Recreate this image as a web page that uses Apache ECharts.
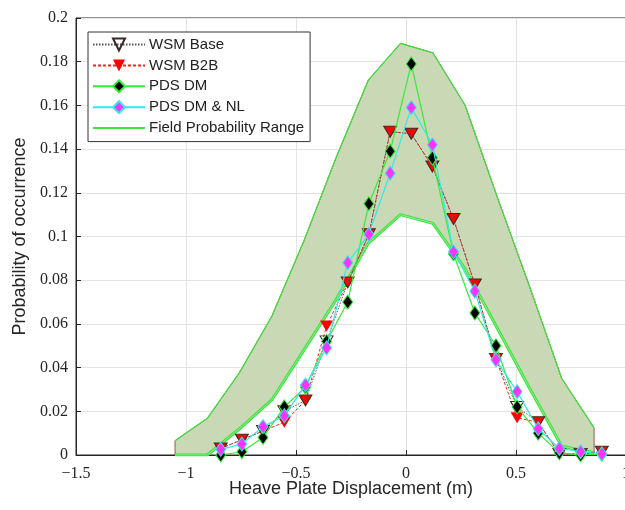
<!DOCTYPE html>
<html>
<head>
<meta charset="utf-8">
<script src="https://cdn.jsdelivr.net/npm/echarts@6/dist/echarts.min.js"></script>
<style>
html, body { margin: 0; padding: 0; background: #fff; }
#main { width: 625px; height: 510px; }
</style>
</head>
<body>
<div id="main"></div>
<script>
// marker positions (m)
var xPos = [-0.842, -0.746, -0.650, -0.553, -0.457, -0.361, -0.265, -0.169, -0.072, 0.024,
            0.120, 0.216, 0.313, 0.409, 0.505, 0.601, 0.697, 0.794, 0.890];
var wsmBase = [0.003, 0.007, 0.011, 0.020, 0.025, 0.052, 0.079, 0.101, 0.148, 0.147,
               0.132, 0.108, 0.078, 0.044, 0.022, 0.015, 0.0005, 0.0005, 0.0015];
var wsmB2B = [0.003, 0.007, 0.011, 0.015, 0.025, 0.059, 0.079, 0.101, 0.148, 0.147,
              0.132, 0.108, 0.078, 0.044, 0.017, 0.015, 0.0005, 0.0005, 0.0015];
var pdsDM = [0.000, 0.0015, 0.008, 0.022, 0.031, 0.052, 0.070, 0.115, 0.139, 0.179,
             0.136, 0.092, 0.065, 0.050, 0.022, 0.010, 0.001, 0.000, 0.0003];
var pdsDMNL = [0.0026, 0.005, 0.013, 0.018, 0.032, 0.049, 0.088, 0.101, 0.129, 0.159,
               0.142, 0.093, 0.075, 0.0435, 0.029, 0.012, 0.003, 0.0015, 0.0005];

// field probability range
var fieldX = [-1.05, -0.903, -0.757, -0.61, -0.464, -0.318, -0.171, -0.025, 0.122, 0.268,
              0.415, 0.561, 0.708, 0.855];
var fieldUpper = [0.0065, 0.0168, 0.0377, 0.0635, 0.098, 0.136, 0.1716, 0.1884, 0.1841, 0.1602,
                  0.118, 0.0773, 0.035, 0.0124];
var fieldLower = [0.0, 0.0, 0.012, 0.0252, 0.048, 0.071, 0.097, 0.110, 0.106, 0.0853,
                  0.058, 0.0307, 0.004, 0.001];

function pairs(xs, ys) {
    var out = [];
    for (var i = 0; i < xs.length; i++) {
        out.push([xs[i], ys[i]]);
    }
    return out;
}

var myChart = echarts.init(document.getElementById('main'));
var sans = 'Liberation Sans';
var serif = 'Liberation Serif';
var green = '#3de23d';

var option = {
    backgroundColor: '#ffffff',
    animation: false,
    grid: {
        left: 76, top: 18, width: 550, bottom: 55,
        containLabel: false,
        outerBoundsMode: 'none',
        show: true, borderColor: '#262626', borderWidth: 1
    },
    legend: {
        orient: 'vertical',
        left: 88, top: 32,
        backgroundColor: '#ffffff',
        borderColor: '#333333',
        borderWidth: 1,
        padding: [5, 6, 6, 4],
        itemWidth: 52,
        itemHeight: 15,
        itemGap: 5.9,
        textStyle: { fontFamily: sans, fontSize: 15, color: '#222', padding: [0, 0, 0, -1] },
        data: [
            'WSM Base', 'WSM B2B', 'PDS DM', 'PDS DM & NL',
            { name: 'Field Probability Range', itemStyle: { opacity: 0 } }
        ]
    },
    xAxis: {
        type: 'value',
        min: -1.5, max: 1, interval: 0.5,
        name: 'Heave Plate Displacement (m)',
        nameLocation: 'middle',
        nameGap: 25,
        nameMoveOverlap: false,
        nameTextStyle: { fontFamily: sans, fontSize: 18, color: '#262626' },
        axisLine: { onZero: false, lineStyle: { color: '#262626' } },
        axisTick: { inside: true, length: 5, lineStyle: { color: '#262626' } },
        axisLabel: {
            fontFamily: serif, fontSize: 16, color: '#262626', margin: 11,
            formatter: function (v) { return String(v).replace('-', '\u2212'); }
        },
        splitLine: { show: true, lineStyle: { color: '#e3e3e3' } }
    },
    yAxis: {
        type: 'value',
        min: 0, max: 0.2, interval: 0.02,
        name: 'Probability of occurrence',
        nameLocation: 'middle',
        nameGap: 41,
        nameTextStyle: { fontFamily: sans, fontSize: 18, color: '#262626' },
        axisLine: { show: true, onZero: false, lineStyle: { color: '#262626' } },
        axisTick: { show: true, inside: true, length: 5, lineStyle: { color: '#262626' } },
        axisLabel: { fontFamily: serif, fontSize: 16, color: '#262626', margin: 8 },
        splitLine: { show: true, lineStyle: { color: '#e3e3e3' } }
    },
    series: [
        {
            name: 'fieldFill',
            type: 'custom',
            z: 1,
            silent: true,
            data: pairs(fieldX, fieldUpper),
            renderItem: function (params, api) {
                if (params.dataIndex !== 0) return;
                var pts = [];
                for (var i = 0; i < fieldX.length; i++) {
                    pts.push(api.coord([fieldX[i], fieldUpper[i]]));
                }
                for (var j = fieldX.length - 1; j >= 0; j--) {
                    pts.push(api.coord([fieldX[j], fieldLower[j]]));
                }
                return {
                    type: 'polygon',
                    shape: { points: pts },
                    style: { fill: '#c9d9b6', stroke: '#9a5a48', lineWidth: 1 }
                };
            }
        },
        {
            name: 'Field Probability Range',
            type: 'line',
            z: 2,
            symbol: 'none',
            data: pairs(fieldX, fieldUpper),
            lineStyle: { color: green, width: 1.2 },
            itemStyle: { color: green }
        },
        {
            name: 'Field Probability Range',
            type: 'line',
            z: 2,
            symbol: 'none',
            data: pairs(fieldX, fieldLower),
            lineStyle: { color: green, width: 3 },
            itemStyle: { color: green }
        },
        {
            name: 'fieldLowerInner',
            type: 'line',
            z: 2,
            symbol: 'none',
            silent: true,
            data: pairs(fieldX, fieldLower),
            lineStyle: { color: '#a8eea8', width: 0.8 }
        },
        {
            name: 'WSM B2B',
            type: 'line',
            z: 3,
            symbol: 'triangle',
            symbolRotate: 180,
            symbolSize: [13, 11],
            data: pairs(xPos, wsmB2B),
            lineStyle: { color: '#ff2020', width: 1, type: [3, 2] },
            itemStyle: { color: '#ff0000', borderColor: '#ff0000', borderWidth: 0 }
        },
        {
            name: 'WSM Base',
            type: 'line',
            z: 4,
            symbol: 'triangle',
            symbolRotate: 180,
            symbolSize: [13, 11],
            data: pairs(xPos, wsmBase),
            lineStyle: { color: '#555555', width: 1, type: [1.5, 1.5] },
            itemStyle: { color: 'rgba(0,0,0,0)', borderColor: '#3a2a25', borderWidth: 1 }
        },
        {
            name: 'PDS DM',
            type: 'line',
            z: 5,
            symbol: 'diamond',
            symbolSize: [10, 14],
            data: pairs(xPos, pdsDM),
            lineStyle: { color: '#33ee33', width: 1.2 },
            itemStyle: { color: '#000000', borderColor: '#33ee33', borderWidth: 1 }
        },
        {
            name: 'PDS DM & NL',
            type: 'line',
            z: 6,
            symbol: 'diamond',
            symbolSize: [10, 14],
            data: pairs(xPos, pdsDMNL),
            lineStyle: { color: '#33e8e8', width: 1.2 },
            itemStyle: { color: '#ff33ff', borderColor: '#33e8e8', borderWidth: 1 }
        }
    ]
};
myChart.setOption(option);
</script>
</body>
</html>
